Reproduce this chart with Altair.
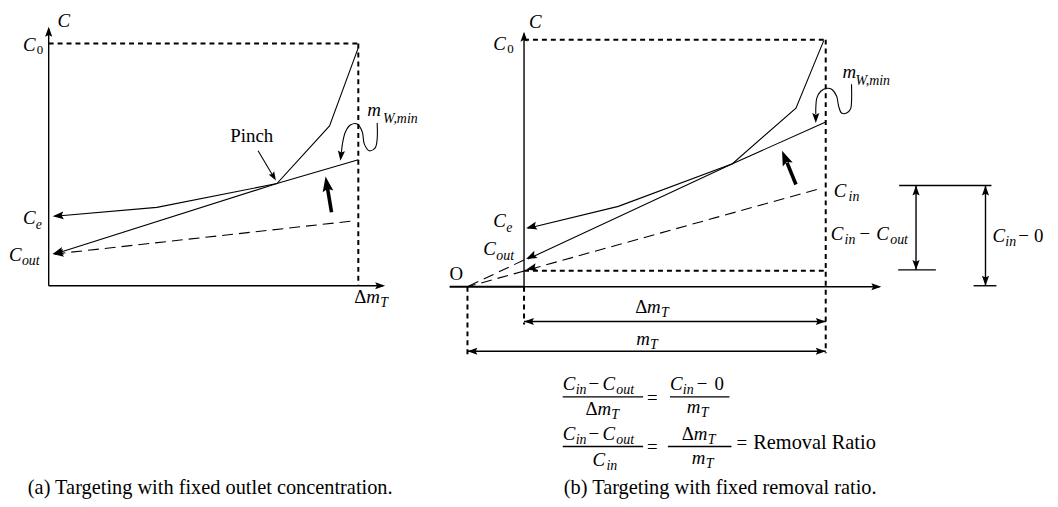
import math
import altair as alt
import pandas as pd

FONT = "Liberation Serif"

# ---------------- panel (a): fixed outlet concentration ----------------
A_AXIS = [[(49, 286), (49, 27)], [(49, 286), (386, 286)]]
A_FRAME = [[(49, 42), (361, 42)], [(361, 42), (361, 286)]]
A_COMPOSITE = [(361, 46), (332, 125), (279, 183), (158, 207), (55, 216)]
A_WATER = [(361, 159), (279, 183), (55, 254)]
A_WATER_LOW = [(353, 221), (55, 254)]
A_PINCH_PTR = [(260, 150), (276, 177)]
A_THICK = [(334, 212), (330, 188)]
A_CURL = [(380, 122), (380, 138), (378, 147), (372, 150), (367, 143), (365, 131),
          (360, 123), (353, 124), (348, 131), (345, 143), (344, 152)]

# ---------------- panel (b): fixed removal ratio ----------------
B_AXIS = [[(528, 287), (528, 32)], [(528, 287), (886, 287)]]
B_AXIS_LEFT = [(453, 287), (528, 287)]
B_FRAME = [[(528, 38), (832, 38)], [(832, 38), (832, 354)], [(528, 271), (832, 271)],
           [(528, 287), (528, 325)], [(471, 287), (471, 355)]]
B_COMPOSITE = [(830, 39), (802, 107), (738, 163), (623, 206), (532, 228)]
B_WATER = [(832, 121), (738, 163), (532, 259)]
B_WATER_EXT = [(528, 260), (471, 287)]
B_WATER_LOW = [(823, 189), (471, 287)]
B_THICK = [(802, 184), (793, 162)]
B_CURL = [(858, 83), (858, 100), (857, 108), (853, 112), (848, 112), (845, 105), (843, 95),
          (838, 88), (833, 87), (827, 90), (823, 97), (822, 107), (822, 113)]
B_DIMS = [[(528, 322), (832, 322)], [(471, 352), (832, 352)]]
BRACKETS = [[(906, 185), (999, 185)], [(923, 185), (923, 270)], [(905, 270), (943, 270)],
            [(993, 185), (993, 286)], [(981, 286), (1004, 286)]]
FRACTION_BARS = [[(567, 398), (648, 398)], [(675, 398), (735, 398)],
                 [(567, 448), (648, 448)], [(673, 448), (737, 448)]]

# arrowheads: (tip, a point behind the tip, head length)
HEADS = [
    ((53, 216), (158, 207), 11), ((53, 254), (279, 183), 11), ((53, 254), (353, 221), 11),
    ((278, 180), (260, 150), 9), ((343, 160), (344, 150), 10),
    ((49, 25), (49, 100), 10), ((388, 286), (300, 286), 10),
    ((530, 228), (623, 206), 11), ((530, 259), (738, 163), 11), ((530, 270), (823, 189), 11),
    ((822, 122), (822, 110), 10), ((528, 30), (528, 100), 10), ((888, 287), (800, 287), 10),
    ((528, 322), (600, 322), 10), ((832, 322), (700, 322), 10),
    ((471, 352), (600, 352), 10), ((832, 352), (700, 352), 10),
    ((923, 185), (923, 230), 10), ((923, 270), (923, 230), 10),
    ((993, 185), (993, 230), 10), ((993, 286), (993, 230), 10),
    ((328, 176), (334, 212), 15), ((788, 150), (802, 184), 15),
]

# text pieces: (text, left x, baseline y, font size)
TEXT_ITALIC = [
    ("C", 58, 25, 19), ("C", 23, 49, 19), ("C", 23, 224, 19), ("e", 36, 229, 14),
    ("C", 9, 261, 19), ("out", 22, 265, 14), ("m", 370, 115, 19), ("W,min", 386, 122, 14),
    ("m", 369, 303, 19), ("T", 383, 307, 14),
    ("C", 533, 26, 19), ("C", 497, 48, 19), ("C", 497, 227, 19), ("e", 510, 232, 14),
    ("C", 487, 255, 19), ("out", 500, 260, 14), ("C", 840, 197, 19), ("in", 855, 201, 14),
    ("C", 837, 240, 19), ("in", 851, 244, 14), ("C", 883, 240, 19), ("out", 897, 244, 14),
    ("C", 1000, 242, 19), ("in", 1013, 246, 14), ("m", 849, 77, 19), ("W,min", 862, 84, 14),
    ("m", 652, 313, 19), ("T", 666, 317, 14), ("m", 641, 346, 19), ("T", 655, 350, 14),
    ("C", 567, 391, 19), ("in", 580, 395, 14), ("C", 607, 391, 19), ("out", 621, 395, 14),
    ("m", 602, 416, 19), ("T", 616, 420, 14), ("C", 675, 391, 19), ("in", 688, 395, 14),
    ("m", 692, 414, 19), ("T", 706, 418, 14),
    ("C", 567, 441, 19), ("in", 580, 445, 14), ("C", 607, 441, 19), ("out", 621, 445, 14),
    ("C", 597, 468, 19), ("in", 611, 472, 14), ("m", 699, 441, 19), ("T", 713, 445, 14),
    ("m", 697, 466, 19), ("T", 711, 470, 14),
]
TEXT_UPRIGHT = [
    ("0", 37, 52, 13), ("Pinch", 232, 141, 19), ("Δ", 357, 303, 19),
    ("0", 511, 51, 13), ("O", 453, 280, 19), ("−", 866, 240, 19), ("−", 1026, 242, 19),
    ("0", 1042, 242, 19), ("Δ", 640, 313, 19),
    ("−", 593, 391, 19), ("Δ", 590, 416, 19), ("=", 652, 405, 19), ("−", 702, 391, 19),
    ("0", 720, 391, 19),
    ("−", 593, 441, 19), ("=", 652, 455, 19), ("Δ", 687, 441, 19), ("=", 742, 450, 19),
    ("Removal Ratio", 759, 451, 20.5),
    ("(a) Targeting with fixed outlet concentration.", 28, 496, 20.5),
    ("(b) Targeting with fixed removal ratio.", 568, 496, 20.5),
]

# ---------------- chart ----------------
XS = alt.Scale(domain=[8, 1058], nice=False, zero=False)
YS = alt.Scale(domain=[8, 499], nice=False, zero=False, reverse=True)
X = alt.X("x:Q", scale=XS, axis=None)
Y = alt.Y("y:Q", scale=YS, axis=None)


def lines_df(groups):
    rows = []
    for g, pts in enumerate(groups):
        for i, (x, y) in enumerate(pts):
            rows.append({"g": g, "i": i, "x": x, "y": y})
    return pd.DataFrame(rows)


def line_layer(groups, width, dash=None, interp=None):
    kw = dict(color="black", strokeWidth=width, strokeCap="butt")
    if dash:
        kw["strokeDash"] = dash
    if interp:
        kw["interpolate"] = interp
    return alt.Chart(lines_df(groups)).mark_line(**kw).encode(
        x=X, y=Y, detail="g:N", order="i:Q")


def heads_df(spec):
    rows = []
    for (tx, ty), (fx, fy), L in spec:
        ang = math.degrees(math.atan2(ty - fy, tx - fx)) % 360
        rows.append({"x": tx, "y": ty, "ang": ang, "sz": (2 * L) ** 2})
    return pd.DataFrame(rows)


def text_layer(items, italic):
    df = pd.DataFrame(items, columns=["t", "x", "y", "s"])
    return alt.Chart(df).mark_text(
        align="left", baseline="alphabetic", font=FONT,
        fontStyle="italic" if italic else "normal", color="black",
    ).encode(x=X, y=Y, text="t:N", size=alt.Size("s:Q", scale=None))


HEAD_SHAPE = "M0,0L-1,-0.36L-0.82,0L-1,0.36Z"

layers = [
    line_layer(A_AXIS + B_AXIS + B_DIMS + BRACKETS + FRACTION_BARS, 1.4),
    line_layer([B_AXIS_LEFT], 2.2),
    line_layer(A_FRAME + B_FRAME, 2.0, dash=[5, 4]),
    line_layer([A_COMPOSITE, A_WATER, A_PINCH_PTR, B_COMPOSITE, B_WATER], 1.1),
    line_layer([A_WATER_LOW, B_WATER_LOW, B_WATER_EXT], 1.1, dash=[11, 6]),
    line_layer([A_CURL, B_CURL], 1.1, interp="catmull-rom"),
    line_layer([A_THICK, B_THICK], 3.6),
    alt.Chart(heads_df(HEADS)).mark_point(
        shape=HEAD_SHAPE, filled=True, color="black", opacity=1, strokeWidth=0
    ).encode(x=X, y=Y, angle=alt.Angle("ang:Q", scale=None),
             size=alt.Size("sz:Q", scale=None)),
    text_layer(TEXT_ITALIC, True),
    text_layer(TEXT_UPRIGHT, False),
]

chart = alt.layer(*layers).properties(
    width=1050, height=491, padding=0,
    autosize=alt.AutoSizeParams(type="none"),
    background="white",
).configure_view(stroke=None)

chart.save("out.html", embed_options={"renderer": "svg", "actions": False})
